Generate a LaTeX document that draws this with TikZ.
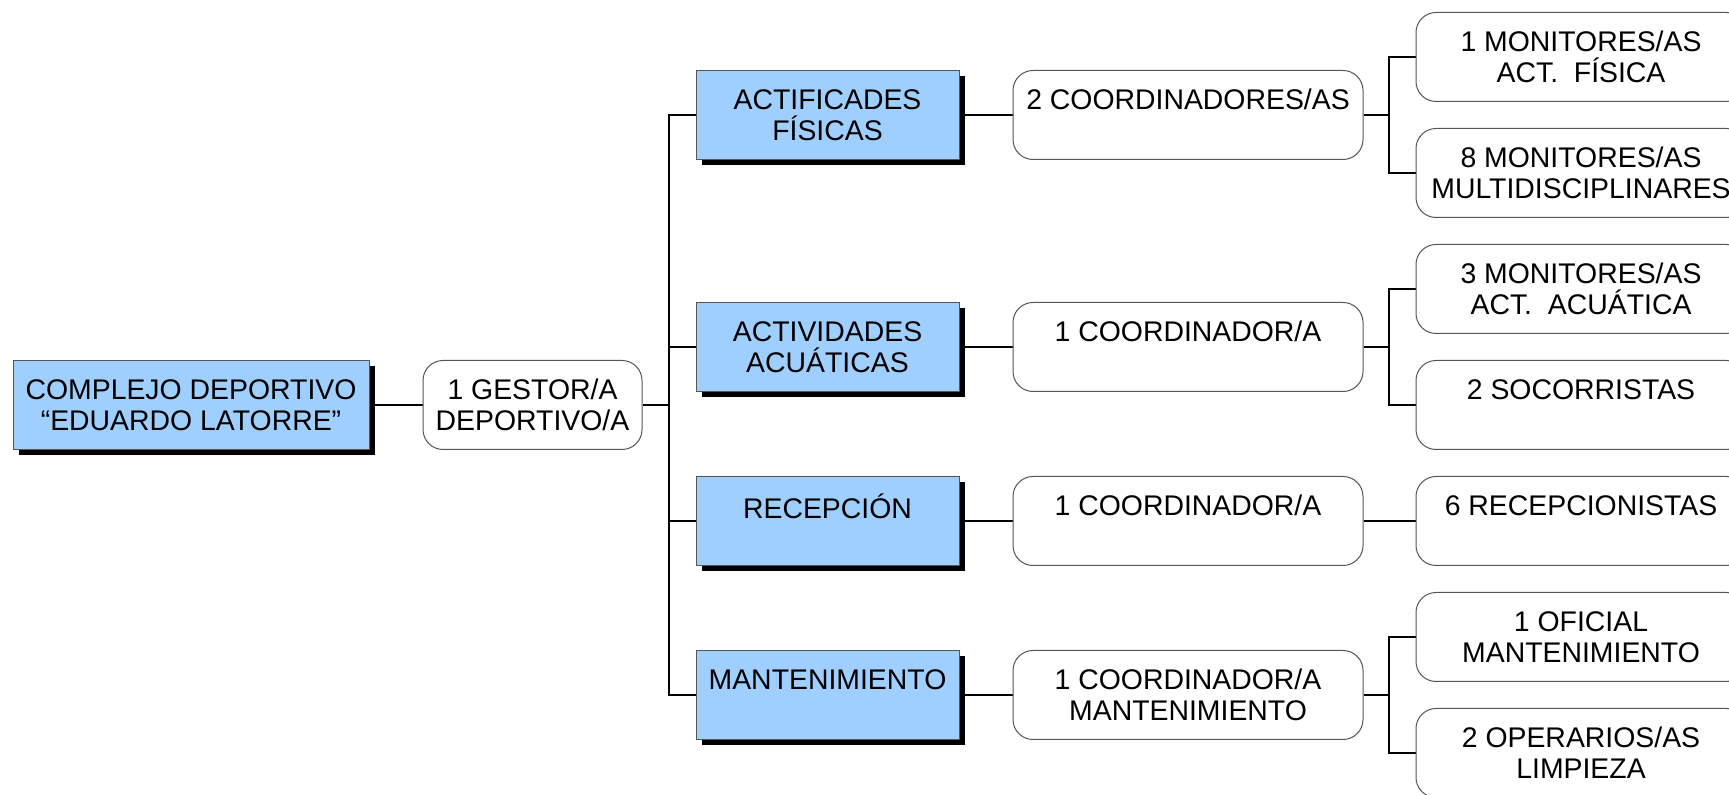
\documentclass[tikz,border=0pt]{standalone}
\usepackage{fontspec}
\setmainfont{Liberation Sans}
\usetikzlibrary{positioning, shadows, backgrounds}
\definecolor{areablue}{HTML}{9FCFFF}
\definecolor{boxline}{HTML}{555555}

\begin{document}
\begin{tikzpicture}[x=0.5pt, y=-0.5pt,
  font=\fontsize{14.2}{15.3}\selectfont,
  area/.style={draw=boxline, line width=0.5pt, fill=areablue, minimum height=44.5pt,
    inner sep=0pt, align=center,
    drop shadow={shadow xshift=3pt, shadow yshift=-3pt, fill=black, opacity=1}},
  staff/.style={draw=boxline, line width=0.5pt, fill=white, rounded corners=10pt,
    minimum height=44.5pt, inner sep=0pt, align=center},
  link/.style={line width=0.6pt}]
\clip (0,0) rectangle (1729,795);

% direccion
\node[area, minimum width=178pt] (complejo) at (191,405) {COMPLEJO DEPORTIVO\\“EDUARDO LATORRE”};
\node[staff, minimum width=109.5pt] (gestor) at (532.5,405) {1 GESTOR/A\\DEPORTIVO/A};

% areas
\node[area, minimum width=131.5pt] (fisicas) at (827.5,115) {ACTIFICADES\\FÍSICAS};
\node[area, minimum width=131.5pt] (acuaticas) at (827.5,347) {ACTIVIDADES\\ACUÁTICAS};
\node[area, minimum width=131.5pt] (recepcion) at (827.5,521) {RECEPCIÓN\\\mbox{}};
\node[area, minimum width=131.5pt] (manten) at (827.5,695) {MANTENIMIENTO\\\mbox{}};

% coordinadores
\node[staff, minimum width=175pt] (coordfis) at (1188,115) {2 COORDINADORES/AS\\\mbox{}};
\node[staff, minimum width=175pt] (coordacu) at (1188,347) {1 COORDINADOR/A\\\mbox{}};
\node[staff, minimum width=175pt] (coordrec) at (1188,521) {1 COORDINADOR/A\\\mbox{}};
\node[staff, minimum width=175pt] (coordman) at (1188,695) {1 COORDINADOR/A\\MANTENIMIENTO};

% personal
\node[staff, minimum width=165pt] (monfis) at (1581,57) {1 MONITORES/AS\\ACT.\ \ FÍSICA};
\node[staff, minimum width=165pt] (monmulti) at (1581,173) {8 MONITORES/AS\\MULTIDISCIPLINARES};
\node[staff, minimum width=165pt] (monacu) at (1581,289) {3 MONITORES/AS\\ACT.\ \ ACUÁTICA};
\node[staff, minimum width=165pt] (socorr) at (1581,405) {2 SOCORRISTAS\\\mbox{}};
\node[staff, minimum width=165pt] (recep) at (1581,521) {6 RECEPCIONISTAS\\\mbox{}};
\node[staff, minimum width=165pt] (oficial) at (1581,637) {1 OFICIAL\\MANTENIMIENTO};
\node[staff, minimum width=165pt] (limpieza) at (1581,753) {2 OPERARIOS/AS\\LIMPIEZA};

\coordinate (tronco) at (669,405);
\coordinate (ramafis) at (1389,115);
\coordinate (ramaacu) at (1389,347);
\coordinate (ramaman) at (1389,695);

\begin{scope}[on background layer]
\draw[link] (complejo) -- (gestor);
\draw[link] (gestor) -- (tronco);
\draw[link] (tronco) |- (fisicas);
\draw[link] (tronco) |- (acuaticas);
\draw[link] (tronco) |- (recepcion);
\draw[link] (tronco) |- (manten);

\draw[link] (fisicas) -- (coordfis);
\draw[link] (acuaticas) -- (coordacu);
\draw[link] (recepcion) -- (coordrec);
\draw[link] (manten) -- (coordman);

\draw[link] (coordfis) -- (ramafis);
\draw[link] (ramafis) |- (monfis);
\draw[link] (ramafis) |- (monmulti);
\draw[link] (coordacu) -- (ramaacu);
\draw[link] (ramaacu) |- (monacu);
\draw[link] (ramaacu) |- (socorr);
\draw[link] (coordrec) -- (recep);
\draw[link] (coordman) -- (ramaman);
\draw[link] (ramaman) |- (oficial);
\draw[link] (ramaman) |- (limpieza);
\end{scope}
\end{tikzpicture}
\end{document}
